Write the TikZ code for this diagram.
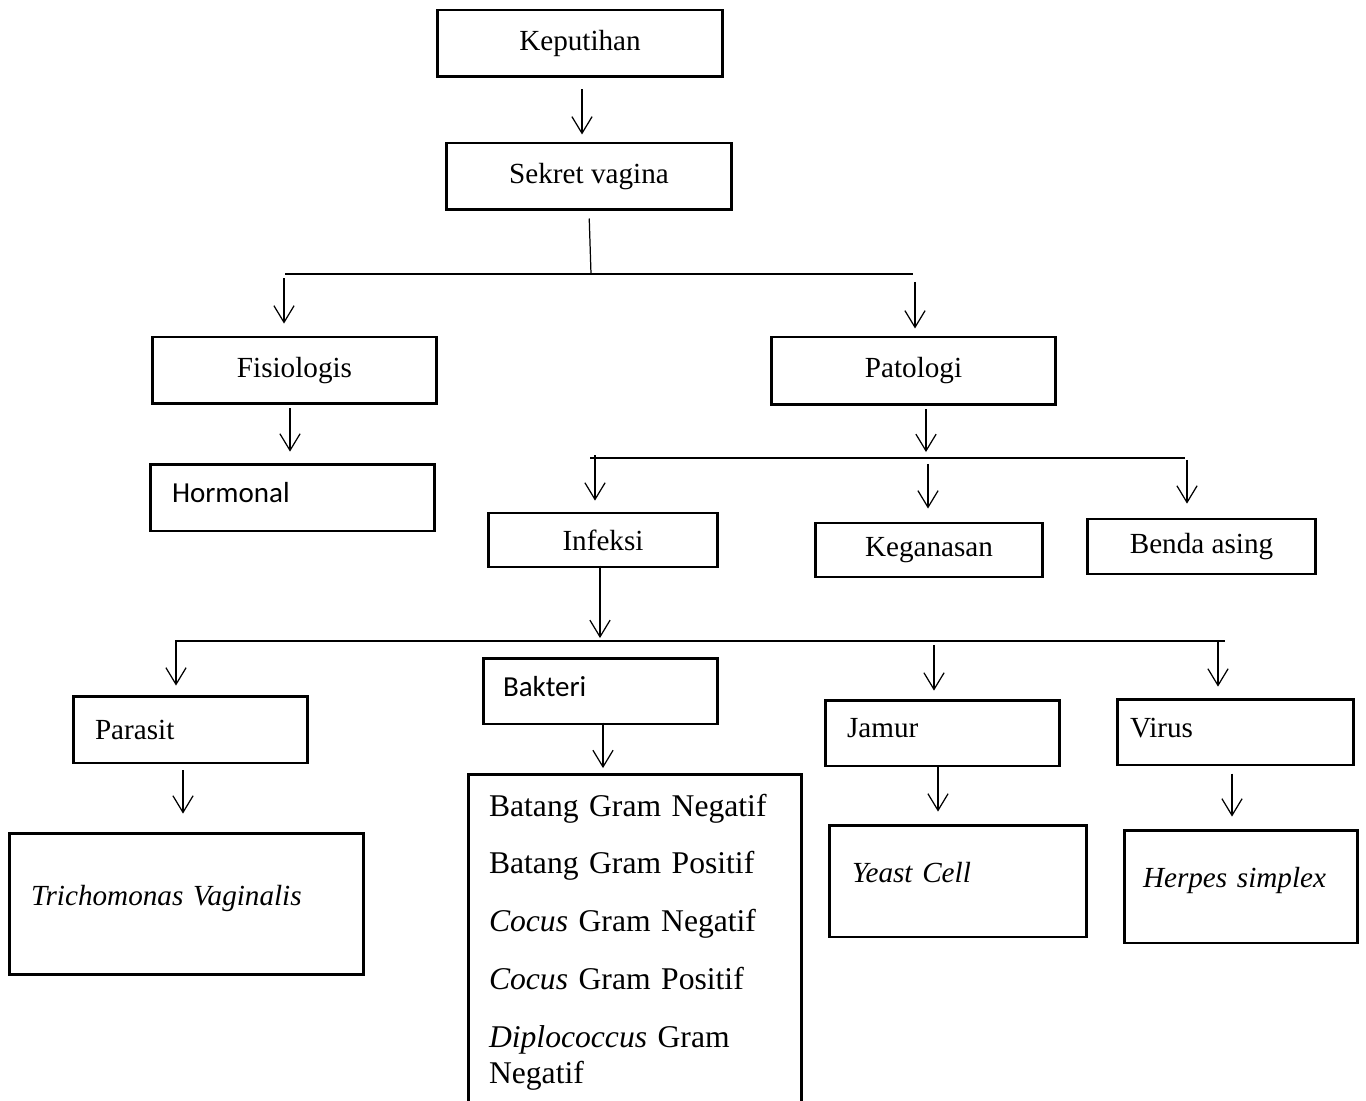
\documentclass[tikz,border=0pt]{standalone}
\usepackage{fontspec}
\setmainfont{Liberation Serif}
\newfontfamily\calibrifont{Carlito}
\usepackage{tikz}
\usetikzlibrary{arrows.meta}

\begin{document}
\begin{tikzpicture}[x=0.02cm,y=-0.02cm,
	box/.style={draw,line width=1.7pt,inner sep=0pt,minimum height=1.34cm,
		font=\fontsize{16.6}{20}\selectfont},
	leftbox/.style={box,align=left},
	conn/.style={line width=0.7pt},
	arr/.style={conn,-{Straight Barb[length=9.5pt,width=11.5pt]}}]
	\useasboundingbox (0,0) rectangle (1366,1101);

	% top of the tree
	\node[box,minimum width=5.72cm] (kep) at (580,43.5) {Keputihan};
	\node[box,minimum width=5.72cm] (sek) at (589,176.5) {Sekret vagina};
	\node[box,minimum width=5.70cm] (fisio) at (294.5,370.5) {Fisiologis};
	\node[box,minimum width=5.70cm,minimum height=1.36cm] (pat) at (913.5,371) {Patologi};
	\node[leftbox,inner xsep=0.44cm,text width=4.82cm,text depth=6pt,
		font=\calibrifont\fontsize{16.5}{20}\selectfont] (horm) at (292.5,497.5) {Hormonal};

	\node[box,minimum width=4.60cm,minimum height=1.08cm] (inf) at (603,540) {Infeksi};
	\node[box,minimum width=4.56cm,minimum height=1.08cm] (keg) at (929,550) {Keganasan};
	\node[box,minimum width=4.58cm,minimum height=1.10cm] (benda) at (1201.5,546.5) {Benda asing};

	% kinds of infection
	\node[leftbox,inner xsep=0.44cm,text width=3.82cm] (parasit) at (190.5,729.5) {Parasit};
	\node[leftbox,inner xsep=0.40cm,text width=3.90cm,minimum height=1.32cm,text depth=5pt,
		font=\calibrifont\fontsize{16.5}{20}\selectfont] (bakteri) at (600.5,691) {Bakteri};
	\node[leftbox,inner xsep=0.44cm,text width=3.82cm,minimum height=1.32cm,text depth=6pt] (jamur) at (942.5,733) {Jamur};
	\node[leftbox,inner xsep=0.26cm,text width=4.22cm,minimum height=1.32cm,text depth=5pt] (virus) at (1235.5,732) {Virus};

	% causes
	\node[leftbox,inner xsep=0.44cm,text width=6.22cm,minimum height=2.84cm,text depth=10pt]
		(trich) at (186.5,904) {\textit{Trichomonas Vaginalis}};
	\node[leftbox,inner xsep=0.46cm,text width=4.24cm,minimum height=2.24cm,text depth=10pt]
		(yeast) at (958,881) {\textit{Yeast Cell}};
	\node[leftbox,inner xsep=0.38cm,text width=3.92cm,minimum height=2.26cm,text depth=10pt]
		(herpes) at (1241,886.5) {\textit{Herpes simplex}};
	\node[leftbox,anchor=north,inner xsep=0.42cm,inner ysep=11pt,text width=5.84cm,
		text depth=200pt,font=\fontsize{18}{20.5}\selectfont] (list) at (635,773)
		{Batang Gram Negatif\\[12pt]
		 Batang Gram Positif\\[12.5pt]
		 \textit{Cocus} Gram Negatif\\[12.5pt]
		 \textit{Cocus} Gram Positif\\[12.5pt]
		 \textit{Diplococcus} Gram\\
		 Negatif};

	% branch lines
	\coordinate (b1l) at (285,274);
	\coordinate (b1r) at (913,274);
	\coordinate (b2l) at (590,458);
	\coordinate (b2r) at (1185,458);
	\coordinate (b3l) at (175,641);
	\coordinate (b3r) at (1225,641);
	\draw[conn] (b1l) -- (b1r);
	\draw[conn] (b2l) -- (b2r);
	\draw[conn] (b3l) -- (b3r);
	\draw[conn,shorten <=4pt] (589,0 |- sek.south) -- (591,0 |- b1l);

	% arrows: x / from / to / gap at start / gap at tip
	\foreach \x/\a/\b/\s/\t in {582/kep.south/sek.north/6.2/4,
			284/b1l/fisio.north/2.3/6.8,
			915/b1r/pat.north/4.5/4,
			290/fisio.south/horm.north/1.7/6.2,
			926/pat.south/b2l/1.7/3.4,
			595/b2l/inf.north/-1.7/6.2,
			928/b2l/keg.north/3.4/7.4,
			1187/b2l/benda.north/1.1/7.9,
			600/inf.south/b3l/-1.7/1.7,
			176/b3l/parasit.north/0.6/5.1,
			934/b3l/jamur.north/2.3/4.5,
			1218/b3l/virus.north/0.6/6.2,
			183/parasit.south/trich.north/3.4/10.2,
			603/bakteri.south/list.north/-1.7/2.8,
			938/jamur.south/yeast.north/0/6.8,
			1232/virus.south/herpes.north/4/6.8}
		\draw[arr,shorten <=\s pt,shorten >=\t pt] (\x,0 |- \a) -- (\x,0 |- \b);
\end{tikzpicture}
\end{document}
